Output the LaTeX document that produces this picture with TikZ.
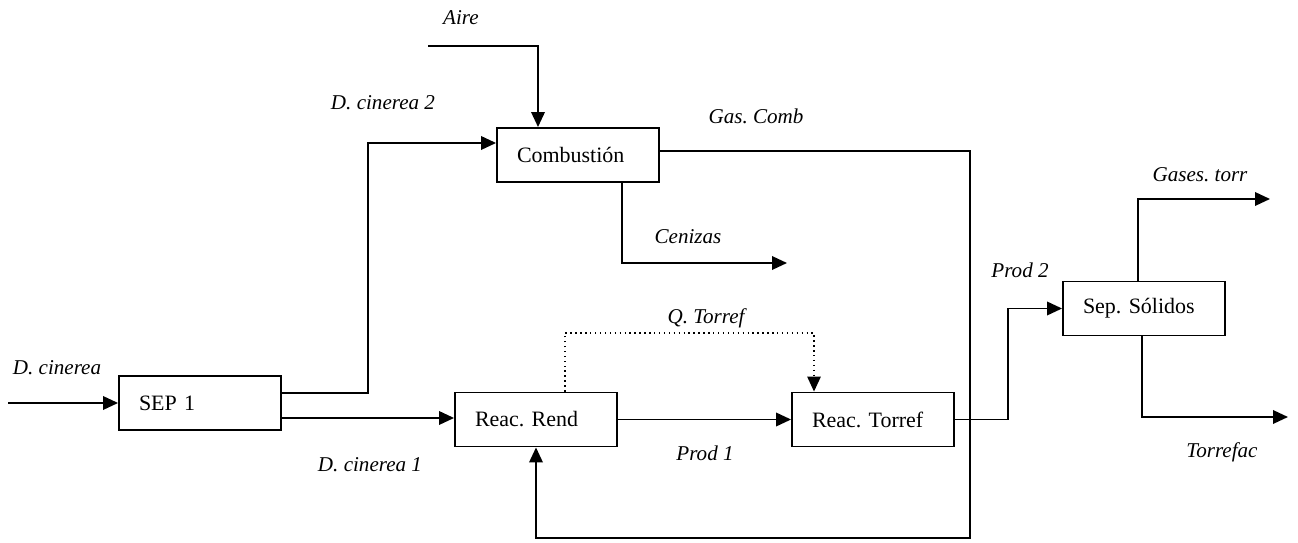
\documentclass[tikz,border=0pt]{standalone}
\usepackage{fontspec}
\setmainfont{Liberation Serif}
\usetikzlibrary{arrows.meta}
\usetikzlibrary{positioning}
\frenchspacing

\begin{document}
\begin{tikzpicture}[
        x=0.02cm, y=-0.02cm,
        font=\fontsize{12.5}{14}\selectfont,
        block/.style={
            draw,
            line width=1.1pt,
            align=left,
            text width=2.44cm,
            minimum height=1.08cm,
            inner xsep=0.4cm
        },
        stream/.style={
            font=\fontsize{12}{14}\selectfont\itshape,
            inner sep=1pt
        },
        arrow/.style={-{Triangle[length=0.3cm,width=0.27cm]}, line width=1.1pt},
        heat/.style={-{Triangle[length=0.3cm,width=0.27cm]}, dotted, line width=0.8pt}
    ]
        \useasboundingbox (0,0) rectangle (1298,543);

        % unidades
        \node[block] (sep1) at (200,403) {SEP 1};
        \node[block] (comb) at (578,155) {Combustión};
        \node[block] (rend) at (536,419.5) {Reac. Rend};
        \node[block] (torref) at (873,419.5) {Reac. Torref};
        \node[block] (sepsol) at (1144,308.5) {Sep. Sólidos};

        % puntos libres
        \coordinate (din) at (8,403);
        \coordinate (aire) at (428,46);
        \coordinate (dc2) at (368,0);
        \coordinate (c2in) at ([yshift=0.24cm]comb.west);
        \coordinate (cen) at (787,263);
        \coordinate (ret) at (970,538);
        \coordinate (qtop) at (0,333);
        \coordinate (p2) at (1008,0);
        \coordinate (gt) at (1270,199);
        \coordinate (tf) at (1288,417);

        % corrientes
        \node[stream] (lDin) at (57,368) {D. cinerea};
        \node[stream] (lDc1) at (370,465) {D. cinerea 1};
        \node[stream] (lDc2) at (383,103) {D. cinerea 2};
        \node[stream] (lAire) at (461,18) {Aire};
        \node[stream] (lGas) at (756,116) {Gas. Comb};
        \node[stream] (lCen) at (688,237) {Cenizas};
        \node[stream] (lQ) at (706,318) {Q. Torref};
        \node[stream] (lP1) at (705,453) {Prod 1};
        \node[stream] (lP2) at (1020,270) {Prod 2};
        \node[stream] (lGt) at (1200,175) {Gases. torr};
        \node[stream] (lTf) at (1222,452) {Torrefac};

        \draw[arrow] (din) -- (sep1.west);
        \draw[arrow] ([yshift=0.2cm]sep1.east) -| (dc2 |- c2in) -- (c2in);
        \draw[arrow] ([yshift=-0.3cm]sep1.east) -- ([yshift=-0.3cm]sep1.east -| rend.west);
        \draw[arrow] (aire) -| ([xshift=-0.8cm]comb.north);
        \draw[arrow] ([xshift=0.88cm]comb.south) |- (cen);
        \draw[arrow] ([yshift=0.08cm]comb.east) -| (ret) -| (rend.south);
        \draw[heat] ([xshift=0.58cm]rend.north) -- ([xshift=0.58cm]rend.north |- qtop) -| ([xshift=-1.18cm]torref.north);
        \draw[arrow] (rend.east) -- (torref.west);
        \draw[arrow] (torref.east) -- (torref.east -| p2) |- (sepsol.west);
        \draw[arrow] ([xshift=-0.12cm]sepsol.north) |- (gt);
        \draw[arrow] ([xshift=-0.04cm]sepsol.south) |- (tf);
    \end{tikzpicture}
\end{document}
